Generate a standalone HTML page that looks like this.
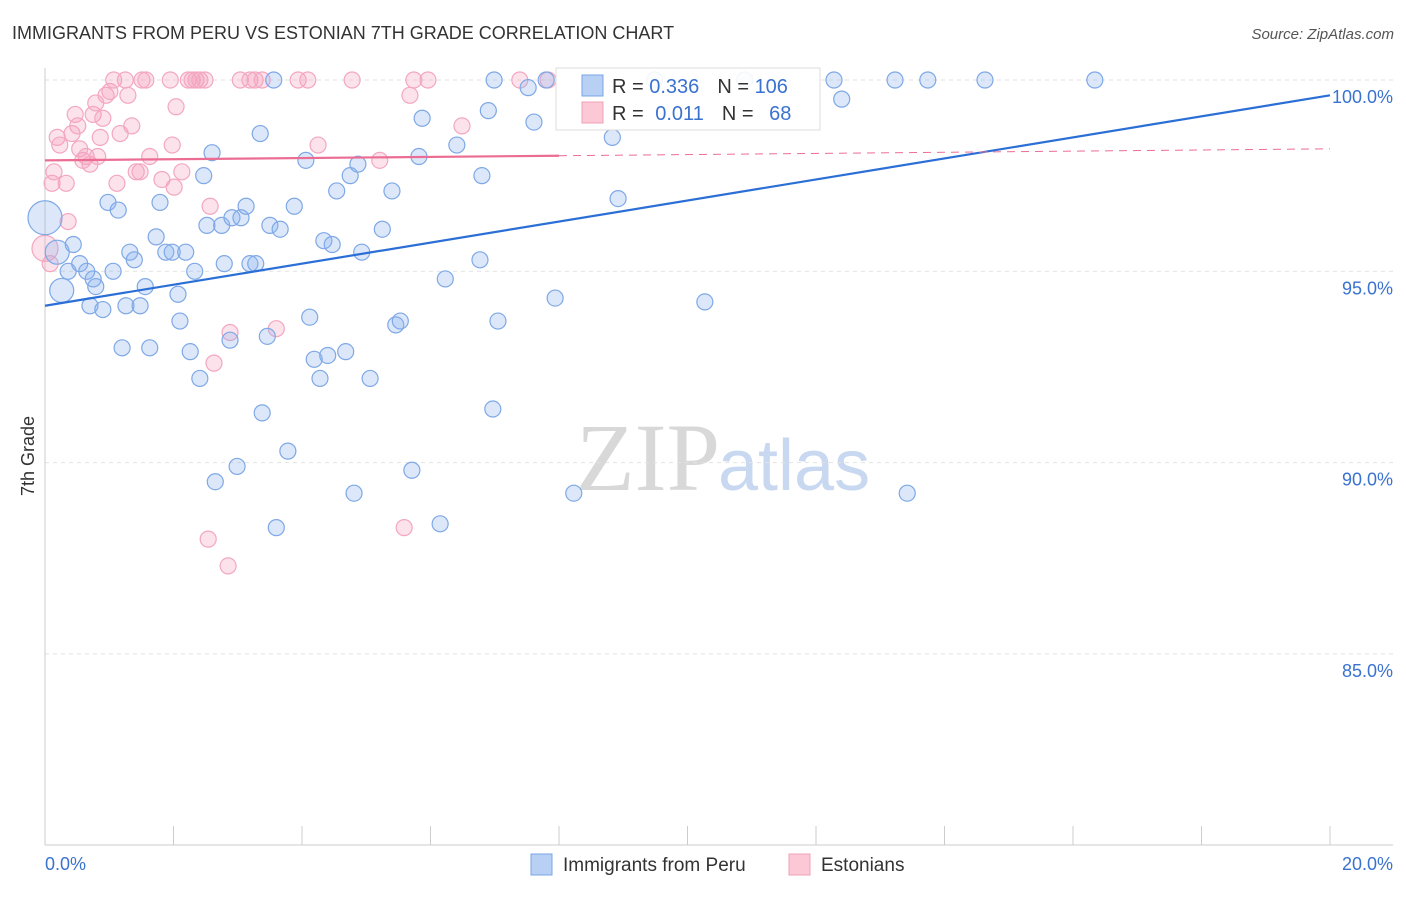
<!DOCTYPE html>
<html><head><meta charset="utf-8"><style>
body{margin:0;background:#fff;font-family:"Liberation Sans",sans-serif;}
</style></head><body>
<svg id="c" width="1406" height="892" xmlns="http://www.w3.org/2000/svg">
<text x="12" y="39" font-size="18" fill="#333">IMMIGRANTS FROM PERU VS ESTONIAN 7TH GRADE CORRELATION CHART</text>
<text x="1394" y="39" font-size="15" fill="#555" font-style="italic" text-anchor="end">Source: ZipAtlas.com</text>
<text x="720" y="490" font-size="96" fill="#d8d8d8" font-family="Liberation Serif,serif" text-anchor="end">ZIP</text>
<text x="718" y="490" font-size="72" fill="#c8d8f0">atlas</text>
<text transform="translate(34,456) rotate(-90)" font-size="18" fill="#333" text-anchor="middle">7th Grade</text>
<g id="grid"></g><g id="pts"></g><g id="lines"></g>
<g>
<rect x="556" y="68" width="264" height="62" fill="#fff" fill-opacity="0.9" stroke="#ddd"/>
<rect x="582" y="75" width="21" height="21" fill="#b8d0f4" stroke="#7aa4e4"/>
<text x="612" y="93" font-size="20" fill="#333">R = <tspan fill="#3a72d0">0.336</tspan><tspan dx="18">N = </tspan><tspan fill="#3a72d0">106</tspan></text>
<rect x="582" y="102" width="21" height="21" fill="#fcc8d6" stroke="#f0a0b8"/>
<text x="612" y="120" font-size="20" fill="#333">R = <tspan dx="6" fill="#3a72d0">0.011</tspan><tspan dx="18">N = </tspan><tspan dx="10" fill="#3a72d0">68</tspan></text>
</g>
<g>
<rect x="531" y="854" width="21" height="21" fill="#b8d0f4" stroke="#7aa4e4"/>
<text x="563" y="871" font-size="19" fill="#333">Immigrants from Peru</text>
<rect x="789" y="854" width="21" height="21" fill="#fcc8d6" stroke="#f0a0b8"/>
<text x="821" y="871" font-size="19" fill="#333">Estonians</text>
</g>
</svg>
<script>
const blueX=[0,0.19,0.26,0.44,0.36,0.54,0.65,0.79,0.70,0.90,1.06,0.98,1.14,1.20,1.26,1.32,1.39,1.48,1.56,1.63,1.73,1.79,1.88,1.98,2.07,2.10,2.19,2.26,2.33,2.41,2.47,2.52,2.60,2.65,2.75,2.79,2.88,2.91,2.99,3.05,3.13,3.19,3.28,3.35,3.38,3.46,3.50,3.60,3.66,3.78,3.88,4.06,4.12,4.19,4.28,4.34,4.40,4.47,4.54,4.68,4.75,4.81,4.87,4.93,5.06,5.25,5.40,5.46,5.53,5.71,5.82,5.87,6.15,6.23,6.41,6.77,6.80,6.90,6.97,6.99,7.05,7.52,7.61,7.80,7.94,8.23,8.83,8.92,9.49,10.27,10.89,12.28,12.40,13.23,13.42,13.74,14.63,16.34,3.56,0.75];
const blueY=[96.4,95.5,94.5,95.7,95.0,95.2,95.0,94.6,94.1,94.0,95.0,96.8,96.6,93.0,94.1,95.5,95.3,94.1,94.6,93.0,95.9,96.8,95.5,95.5,94.4,93.7,95.5,92.9,95.0,92.2,97.5,96.2,98.1,89.5,96.2,95.2,93.2,96.4,89.9,96.4,96.7,95.2,95.2,98.6,91.3,93.3,96.2,88.3,96.1,90.3,96.7,97.9,93.8,92.7,92.2,95.8,92.8,95.7,97.1,92.9,97.5,89.2,97.8,95.5,92.2,96.1,97.1,93.6,93.7,89.8,98.0,99.0,88.4,94.8,98.3,95.3,97.5,99.2,91.4,100,93.7,99.8,98.9,100,94.3,89.2,98.5,96.9,100,94.2,100,100,99.5,100,89.2,100,100,100,100,94.8];
const blueBig=[0,1,2];
const pinkX=[0,0.08,0.11,0.14,0.19,0.23,0.33,0.36,0.42,0.47,0.51,0.54,0.59,0.64,0.70,0.75,0.79,0.82,0.86,0.90,0.95,1.01,1.07,1.12,1.17,1.25,1.29,1.35,1.42,1.48,1.51,1.57,1.63,1.82,1.95,1.98,2.01,2.04,2.13,2.23,2.29,2.35,2.41,2.49,2.54,2.57,2.63,2.85,2.88,3.04,3.19,3.27,3.38,3.60,3.94,4.09,4.25,4.78,5.21,5.59,5.68,5.74,5.96,6.49,7.39,7.83];
const pinkY=[95.6,95.2,97.3,97.6,98.5,98.3,97.3,96.3,98.6,99.1,98.8,98.2,97.9,98.0,97.8,99.1,99.4,98.0,98.5,99.0,99.6,99.7,100,97.3,98.6,100,99.6,98.8,97.6,97.6,100,100,98.0,97.4,100,98.3,97.2,99.3,97.6,100,100,100,100,100,88.0,96.7,92.6,87.3,93.4,100,100,100,100,93.5,100,100,98.3,100,97.9,88.3,99.6,100,100,98.8,100,100];
const pinkBig=[0];
const blueTrend=[94.1,99.6];
const pinkTrend=[97.9,98.2];
const yTicks=[100,95,90,85];
const xTicks=[0,2,4,6,8,10,12,14,16,18,20];
const NS='http://www.w3.org/2000/svg';
const xs=v=>45+v/20*1285;
const ys=v=>80+(100-v)*38.26;
function mk(t,a,p){const e=document.createElementNS(NS,t);for(const k in a)e.setAttribute(k,a[k]);p.appendChild(e);return e;}
const grid=document.getElementById('grid');
yTicks.forEach(v=>{
 const l=mk('line',{x1:45,x2:1393,y1:ys(v),y2:ys(v),stroke:'#e2e2e2','stroke-dasharray':'4,4'},grid);
 
 
 const t=mk('text',{x:1393,y:ys(v)+23,'font-size':18,fill:'#3a72d0','text-anchor':'end'},grid);
 t.textContent=v.toFixed(1)+'%';
 
 
});
const ax=mk('line',{x1:45,x2:1393,y1:845,y2:845,stroke:'#ccc'},grid);


const ay=mk('line',{x1:45,x2:45,y1:68,y2:845,stroke:'#ccc'},grid);


xTicks.forEach(v=>{
 const l=mk('line',{x1:xs(v),x2:xs(v),y1:826,y2:845,stroke:'#ccc'},grid);
 
 
});
[[0,'start',45],[20,'end',1393]].forEach(([v,a,x])=>{
 const t=mk('text',{x:x,y:870,'font-size':18,fill:'#3a72d0','text-anchor':a},grid);
 t.textContent=v.toFixed(1)+'%';
 
 
});
const pts=document.getElementById('pts');
pinkX.forEach((v,i)=>{
 const c=mk('circle',{cx:xs(v),cy:ys(pinkY[i]),r:pinkBig.includes(i)?13:8,fill:'rgba(246,160,190,0.3)',stroke:'#f3a7c0','stroke-width':1.2},pts);
 
 
});
blueX.forEach((v,i)=>{
 const c=mk('circle',{cx:xs(v),cy:ys(blueY[i]),r:i===0?17:(blueBig.includes(i)?12:8),fill:'rgba(140,180,240,0.3)',stroke:'#7ea8e6','stroke-width':1.2},pts);
 
 
});
const lines=document.getElementById('lines');
const bl=mk('line',{x1:xs(0),y1:ys(blueTrend[0]),x2:xs(20),y2:ys(blueTrend[1]),stroke:'#2b6fd6','stroke-width':2.2},lines);


const pAt=x=>pinkTrend[0]+(pinkTrend[1]-pinkTrend[0])*x/20;
const pl=mk('line',{x1:xs(0),y1:ys(pAt(0)),x2:xs(8),y2:ys(pAt(8)),stroke:'#ec6d94','stroke-width':2.2},lines);


const pd=mk('line',{x1:xs(8),y1:ys(pAt(8)),x2:xs(20),y2:ys(pAt(20)),stroke:'#ec6d94','stroke-width':1,'stroke-dasharray':'8,6'},lines);


</script>
</body></html>
